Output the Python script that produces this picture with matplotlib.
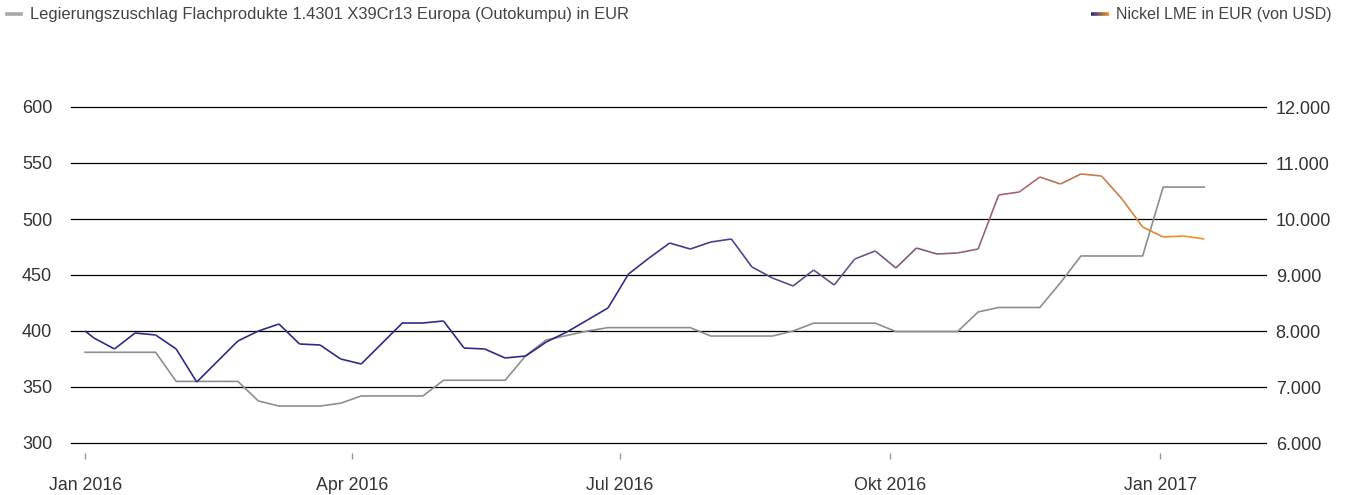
import numpy as np
import pandas as pd
import matplotlib
matplotlib.use("Agg")
import matplotlib.pyplot as plt
import matplotlib.dates as mdates
from matplotlib.collections import LineCollection
from matplotlib.colors import LinearSegmentedColormap
from matplotlib.legend_handler import HandlerBase
from matplotlib.lines import Line2D

plt.rcParams['font.family'] = ['Liberation Sans', 'DejaVu Sans']

# weekly dates (Mondays), starting with 1 Jan 2016
dates = pd.to_datetime([
    "2016-01-01", "2016-01-04", "2016-01-11", "2016-01-18", "2016-01-25",
    "2016-02-01", "2016-02-08", "2016-02-22", "2016-02-29", "2016-03-07",
    "2016-03-14", "2016-03-21", "2016-03-28", "2016-04-04", "2016-04-18",
    "2016-04-25", "2016-05-02", "2016-05-09", "2016-05-16", "2016-05-23",
    "2016-05-30", "2016-06-06", "2016-06-13", "2016-06-20", "2016-06-27",
    "2016-07-04", "2016-07-11", "2016-07-18", "2016-07-25", "2016-08-01",
    "2016-08-08", "2016-08-15", "2016-08-22", "2016-08-29", "2016-09-05",
    "2016-09-12", "2016-09-19", "2016-09-26", "2016-10-03", "2016-10-10",
    "2016-10-17", "2016-10-24", "2016-10-31", "2016-11-07", "2016-11-14",
    "2016-11-21", "2016-11-28", "2016-12-05", "2016-12-12", "2016-12-19",
    "2016-12-26", "2017-01-02", "2017-01-09", "2017-01-16",
])

# Legierungszuschlag 1.4301, EUR/t (left axis)
zuschlag = [
    381, 381, 381, 381, 381,
    355, 355, 355, 337.5, 333,
    333, 333, 335.5, 342, 342,
    342, 356, 356, 356, 356,
    378, 392, 396, 400, 403,
    403, 403, 403, 403, 395.5,
    395.5, 395.5, 395.5, 400, 407,
    407, 407, 407, 399.5, 399.5,
    399.5, 399.5, 417, 421, 421,
    421, 443, 467, 467, 467,
    467, 528.5, 528.5, 528.5,
]

# Nickel LME in EUR (right axis)
nickel = [
    8000, 7875, 7679, 7964, 7929,
    7679, 7089, 7821, 8000, 8125,
    7768, 7750, 7500, 7411, 8143,
    8143, 8179, 7696, 7679, 7518,
    7554, 7804, 7982, 8196, 8411,
    9018, 9304, 9571, 9464, 9589,
    9643, 9143, 8946, 8804, 9089,
    8821, 9286, 9429, 9125, 9482,
    9375, 9393, 9464, 10429, 10482,
    10750, 10625, 10804, 10768, 10357,
    9857, 9679, 9696, 9643,
]

tick_dates = pd.to_datetime(["2016-01-01", "2016-04-01", "2016-07-01", "2016-10-01", "2017-01-01"])
tick_labels = ["Jan 2016", "Apr 2016", "Jul 2016", "Okt 2016", "Jan 2017"]
left_ticks = [300, 350, 400, 450, 500, 550, 600]
right_ticks = [6000, 7000, 8000, 9000, 10000, 11000, 12000]

NAVY = "#2d2c82"
ORANGE = "#f39224"
GREY = "#8e8e8e"
TXT = "#333333"
cmap = LinearSegmentedColormap.from_list("nick", [NAVY, "#5b4d8c", "#9a6674", ORANGE])


class GradientHandler(HandlerBase):
    def create_artists(self, legend, orig_handle, xdescent, ydescent,
                       width, height, fontsize, trans):
        xs = np.linspace(0, width, 25) - xdescent
        ys = np.full_like(xs, height / 2 - ydescent)
        pts = np.array([xs, ys]).T.reshape(-1, 1, 2)
        segs = np.concatenate([pts[:-1], pts[1:]], axis=1)
        lc = LineCollection(segs, cmap=LinearSegmentedColormap.from_list("l", [NAVY, ORANGE]),
                            linewidth=2.6, transform=trans)
        lc.set_array(np.linspace(0, 1, len(segs)))
        return [lc]


fig = plt.figure(figsize=(13.47, 4.95), dpi=100)
ax = fig.add_axes([71 / 1347, 1 - 443 / 495, (1266 - 71) / 1347, (443 - 107) / 495])
ax2 = ax.twinx()

# grey series
ax.plot(dates, zuschlag, color=GREY, lw=1.2, zorder=3)

# nickel series with a colour gradient along time
xn = mdates.date2num(dates)
pts = np.array([xn, nickel]).T.reshape(-1, 1, 2)
segs = np.concatenate([pts[:-1], pts[1:]], axis=1)
mid = (xn[:-1] + xn[1:]) / 2
t0 = mdates.date2num(pd.Timestamp("2016-06-20"))
t1 = xn[-1]
lc = LineCollection(segs, cmap=cmap, linewidth=1.2, zorder=3)
lc.set_array(np.clip((mid - t0) / (t1 - t0), 0, 1))
lc.set_clim(0, 1)
ax2.add_collection(lc)

x0 = mdates.date2num(pd.Timestamp("2016-01-01"))
ax.set_xlim(x0 - 4.8, x0 + 402)
ax.set_ylim(300, 600)
ax2.set_ylim(6000, 12000)

ax.set_yticks(left_ticks)
ax.set_yticklabels([str(v) for v in left_ticks])
ax2.set_yticks(right_ticks)
ax2.set_yticklabels([f"{v:,}".replace(",", ".") for v in right_ticks])
ax.grid(axis="y", color="black", lw=0.9)
for gl in ax.get_ygridlines():
    gl.set_clip_on(False)
ax.set_axisbelow(True)

ax.set_xticks(mdates.date2num(tick_dates))
ax.set_xticklabels(tick_labels)

for a in (ax, ax2):
    for s in a.spines.values():
        s.set_visible(False)
ax.spines["bottom"].set_position(("outward", 7.5))

ax.tick_params(axis="y", length=0, pad=13.5, labelsize=13, labelcolor=TXT)
ax2.tick_params(axis="y", length=0, pad=7, labelsize=13, labelcolor=TXT)
ax.tick_params(axis="x", length=4, width=1, color="#999999", pad=13,
               labelsize=12.8, labelcolor=TXT)

# legends
h1 = Line2D([], [], color="#a8a8a8", lw=2.6)
fig.legend([h1], ["Legierungszuschlag Flachprodukte 1.4301 X39Cr13 Europa (Outokumpu) in EUR"],
           loc="upper left", bbox_to_anchor=(0.0, 1.0), frameon=False,
           fontsize=11.9, labelcolor="#444444", handlelength=0.85, handletextpad=0.5,
           borderaxespad=0.2, borderpad=0.25)
h2 = LineCollection([])
fig.legend([h2], ["Nickel LME in EUR (von USD)"], handler_map={LineCollection: GradientHandler()},
           loc="upper right", bbox_to_anchor=(1.0 - 8 / 1347, 1.0), frameon=False,
           fontsize=11.5, labelcolor="#444444", handlelength=1.1, handletextpad=0.45,
           borderaxespad=0.2, borderpad=0.25)

fig.savefig("out.png", dpi=100)
